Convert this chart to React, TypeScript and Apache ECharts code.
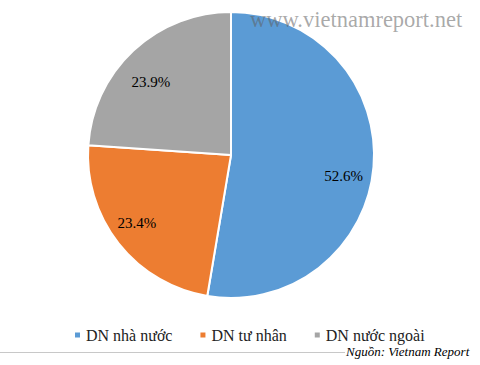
import React, { useEffect, useRef } from "react";
import * as echarts from "echarts";

const categories = ["DN nhà nước", "DN tư nhân", "DN nước ngoài"];
const values = [52.6, 23.4, 23.9];
const colors = ["#5B9BD5", "#ED7D31", "#A5A5A5"];
const labelShift = [
  [-3, 11],
  [-3, -4],
  [-1, 12],
];
const watermark = "www.vietnamreport.net";
const source = "Nguồn: Vietnam Report";

const SERIF = "Liberation Serif";

export default function App() {
  const ref = useRef<HTMLDivElement>(null);
  useEffect(() => {
    if (!ref.current) return;
    const chart = echarts.init(ref.current, undefined, { renderer: "svg" });
    const data = categories.map((name, i) => ({
      name,
      value: values[i],
      itemStyle: { color: colors[i] },
    }));
    chart.setOption({
      animation: false,
      backgroundColor: "#ffffff",
      textStyle: { fontFamily: SERIF, fontSize: 15 },
      legend: {
        data: categories,
        left: 68,
        top: 322,
        icon: "rect",
        itemWidth: 7,
        itemHeight: 7,
        itemGap: 26,
        selectedMode: false,
        textStyle: { fontFamily: SERIF, fontSize: 16, color: "#222" },
      },
      series: [
        {
          type: "pie",
          center: [231, 155],
          radius: [0, 143],
          startAngle: 90,
          clockwise: true,
          silent: true,
          label: { show: false },
          labelLine: { show: false },
          itemStyle: { borderColor: "#ffffff", borderWidth: 2 },
          data,
        },
        {
          type: "pie",
          center: [231, 155],
          radius: [83, 143],
          startAngle: 90,
          clockwise: true,
          silent: true,
          z: 3,
          legendHoverLink: false,
          label: {
            show: true,
            position: "inside",
            formatter: (p: any) => p.value.toFixed(1) + "%",
            fontFamily: SERIF,
            fontSize: 15,
            color: "#000",
          },
          labelLayout: (p: any) => ({
            dx: labelShift[p.dataIndex][0],
            dy: labelShift[p.dataIndex][1],
          }),
          labelLine: { show: false },
          itemStyle: { color: "rgba(0,0,0,0)", borderWidth: 0 },
          data: categories.map((name, i) => ({ name: name + " ", value: values[i] })),
        },
      ],
      graphic: [
        {
          type: "text",
          z: 100,
          left: 250,
          top: 8,
          style: {
            text: watermark,
            fontFamily: SERIF,
            fontSize: 22.5,
            fill: "rgba(95,95,95,0.55)",
          },
        },
        {
          type: "line",
          z: 10,
          shape: { x1: 0, y1: 352.5, x2: 345, y2: 352.5 },
          style: { stroke: "#c8c8c8", lineWidth: 1 },
        },
        {
          type: "text",
          left: 346,
          top: 345,
          style: {
            text: source,
            fontFamily: SERIF,
            fontStyle: "italic",
            fontSize: 13,
            fill: "#000",
          },
        },
      ],
    });
    return () => chart.dispose();
  }, []);
  return (
    <div
      ref={ref}
      style={{ position: "fixed", left: 0, top: 0, width: 480, height: 365 }}
    />
  );
}
